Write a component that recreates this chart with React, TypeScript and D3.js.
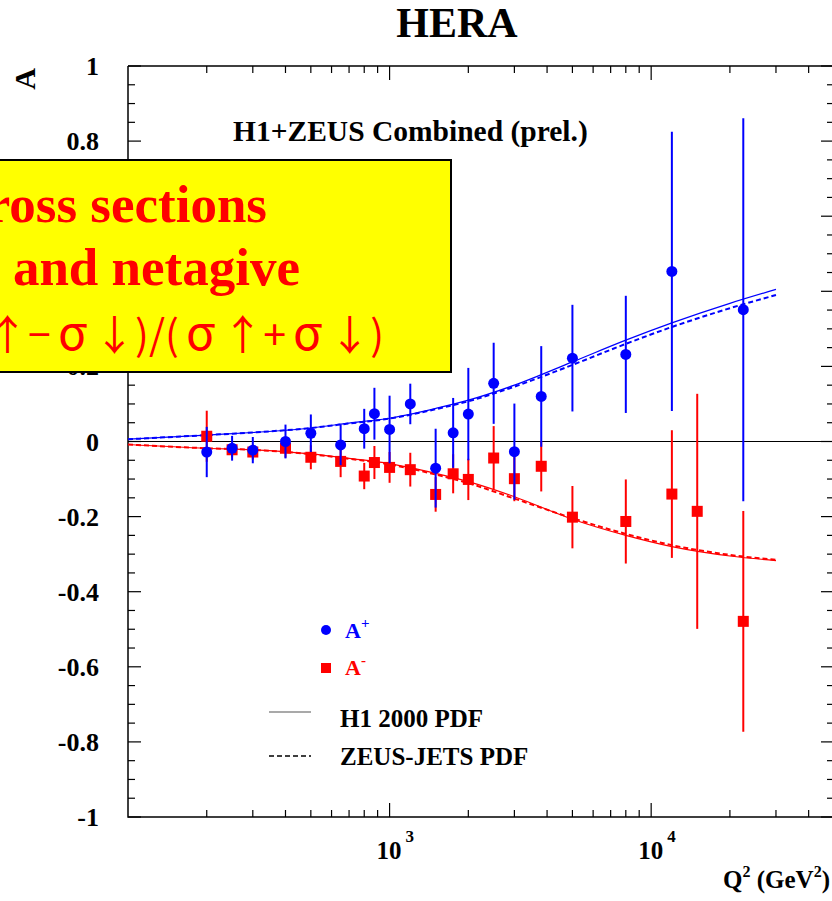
import * as d3 from "d3";

const Q2_PLUS = [200, 250, 300, 400, 500, 650, 800, 875, 1000, 1200, 1500, 1750, 2000, 2500, 3000, 3800, 5000, 8000, 12000, 22500];
const A_PLUS = [-0.028, -0.018, -0.023, 0.0, 0.022, -0.009, 0.034, 0.074, 0.032, 0.1, -0.071, 0.023, 0.073, 0.155, -0.027, 0.12, 0.222, 0.232, 0.453, 0.351];
const ERR_PLUS = [0.067, 0.033, 0.035, 0.045, 0.05, 0.054, 0.053, 0.069, 0.09, 0.054, 0.105, 0.093, 0.123, 0.108, 0.128, 0.134, 0.142, 0.156, 0.372, 0.51];

const Q2_MINUS = [200, 250, 300, 400, 500, 650, 800, 875, 1000, 1200, 1500, 1750, 2000, 2500, 3000, 3800, 5000, 8000, 12000, 15000, 22500];
const A_MINUS = [0.014, -0.022, -0.028, -0.018, -0.042, -0.053, -0.092, -0.056, -0.069, -0.075, -0.141, -0.086, -0.101, -0.044, -0.099, -0.066, -0.2015, -0.213, -0.14, -0.186, -0.479];
const ERR_MINUS = [0.068, 0.02, 0.02, 0.025, 0.032, 0.042, 0.035, 0.044, 0.041, 0.045, 0.046, 0.052, 0.055, 0.085, 0.06, 0.067, 0.083, 0.112, 0.17, 0.313, 0.294];

// PDF predictions
const Q2_THEORY = [100, 200, 300, 500, 700, 1000, 1500, 2000, 3000, 5000, 8000, 12000, 20000, 30000];
const H1_PLUS = [0.006, 0.017, 0.024, 0.036, 0.049, 0.062, 0.088, 0.11, 0.15, 0.212, 0.27, 0.316, 0.368, 0.405];
const ZEUS_PLUS = [0.006, 0.017, 0.024, 0.036, 0.048, 0.061, 0.086, 0.107, 0.146, 0.204, 0.26, 0.305, 0.355, 0.39];
const H1_MINUS = [-0.008, -0.018, -0.022, -0.033, -0.045, -0.059, -0.085, -0.107, -0.147, -0.207, -0.25, -0.28, -0.305, -0.317];
const ZEUS_MINUS = [-0.008, -0.018, -0.022, -0.034, -0.046, -0.061, -0.088, -0.111, -0.152, -0.204, -0.246, -0.276, -0.302, -0.315];

const Y_LABELS = [1, 0.8, 0.6, 0.4, 0.2, 0, -0.2, -0.4, -0.6, -0.8, -1];
const X_DECADES = [1000, 10000];
const X_DECADE_EXP = ["3", "4"];

const NOTE_FORMULA = "(σ↑−σ↓)/(σ↑+σ↓)";

const W = 832;
const H = 901;
const serif = "'Liberation Serif', 'Times New Roman', serif";
const BLUE = "#0000ff";
const RED = "#ff0000";

const x = d3.scaleLog().domain([100, 50000]).range([128, 834]);
const y = d3.scaleLinear().domain([-1, 1]).range([817, 66]);

const curve = (vals: number[]) =>
  d3
    .line<number>()
    .x((_, i) => x(Q2_THEORY[i]))
    .y((d) => y(d))
    .curve(d3.curveMonotoneX)(vals) || "";

// sigma set full width, like the original slide font
function formulaSpans(s: string) {
  const chars = Array.from(s);
  return chars.map((c, i) => {
    const pad = (c === "σ" ? 7 : 0) + (i > 0 && chars[i - 1] === "σ" ? 7 : 0);
    return (
      <tspan key={i} dx={pad} fontSize={c === "σ" ? 48 : undefined}>
        {c}
      </tspan>
    );
  });
}

export default function App() {
  const [x0, x1] = x.range();
  const [yb, yt] = y.range();
  const yMinor = y.ticks(40);
  const xMinor = x.ticks().filter((v) => v > 100 && v < 50000);
  const isDecade = (v: number) => Math.abs(Math.log10(v) - Math.round(Math.log10(v))) < 1e-9;

  return (
    <svg width={W} height={H} style={{ position: "absolute", left: 0, top: 0 }} fontFamily={serif} fontWeight="bold">
      <rect width={W} height={H} fill="#fff" />

      <text x={457} y={37} fontSize={42} textAnchor="middle">HERA</text>

      {/* frame */}
      <g stroke="#000" strokeWidth={1.5} fill="none">
        <path d={`M${x0},${yt}H${x1}M${x0},${yt}V${yb}H${x1}V${yt}`} />
        {yMinor.map((v) => {
          const major = Math.abs(Math.round(v * 5) - v * 5) < 1e-9;
          const len = major ? 13 : 7;
          return (
            <g key={v}>
              <line x1={x0} x2={x0 + len} y1={y(v)} y2={y(v)} strokeWidth={1.2} />
              <line x1={x1} x2={x1 - len} y1={y(v)} y2={y(v)} strokeWidth={1.2} />
            </g>
          );
        })}
        {xMinor.map((v) => {
          const len = isDecade(v) ? 14 : 7;
          return (
            <g key={v}>
              <line x1={x(v)} x2={x(v)} y1={yb} y2={yb - len} strokeWidth={1.2} />
              <line x1={x(v)} x2={x(v)} y1={yt} y2={yt + len} strokeWidth={1.2} />
            </g>
          );
        })}
      </g>

      {/* y labels */}
      {Y_LABELS.map((v) => (
        <text key={v} x={99} y={y(v) + 9} fontSize={26} textAnchor="end">
          {String(v)}
        </text>
      ))}
      <text transform="translate(35,79) rotate(-90)" fontSize={30} textAnchor="middle">A</text>

      {/* x labels */}
      {X_DECADES.map((v, i) => (
        <g key={v}>
          <text x={x(v) + 12} y={859} fontSize={25} textAnchor="end">10</text>
          <text x={x(v) + 16} y={842} fontSize={17}>{X_DECADE_EXP[i]}</text>
        </g>
      ))}
      <text x={830} y={888} fontSize={25} textAnchor="end">
        Q<tspan fontSize={16} dy={-11}>2</tspan>
        <tspan dy={11}> (GeV</tspan>
        <tspan fontSize={16} dy={-11}>2</tspan>
        <tspan dy={11}>)</tspan>
      </text>

      <text x={233} y={141} fontSize={29.5}>H1+ZEUS Combined (prel.)</text>

      {/* zero line */}
      <line x1={x0} x2={x1} y1={y(0)} y2={y(0)} stroke="#000" strokeWidth={1} />

      {/* theory */}
      <g fill="none">
        <path d={curve(H1_PLUS)} stroke={BLUE} strokeWidth={1.2} />
        <path d={curve(ZEUS_PLUS)} stroke={BLUE} strokeWidth={2} strokeDasharray="5,3" />
        <path d={curve(H1_MINUS)} stroke={RED} strokeWidth={1.2} />
        <path d={curve(ZEUS_MINUS)} stroke={RED} strokeWidth={2} strokeDasharray="5,3" />
      </g>

      {/* A- points */}
      {Q2_MINUS.map((q, i) => (
        <g key={"m" + q}>
          <line x1={x(q)} x2={x(q)} y1={y(A_MINUS[i] + ERR_MINUS[i])} y2={y(A_MINUS[i] - ERR_MINUS[i])} stroke={RED} strokeWidth={2} />
          <rect x={x(q) - 5.5} y={y(A_MINUS[i]) - 5.5} width={11} height={11} fill={RED} />
        </g>
      ))}
      {/* A+ points */}
      {Q2_PLUS.map((q, i) => (
        <g key={"p" + q}>
          <line x1={x(q)} x2={x(q)} y1={y(A_PLUS[i] + ERR_PLUS[i])} y2={y(A_PLUS[i] - ERR_PLUS[i])} stroke={BLUE} strokeWidth={2} />
          <circle cx={x(q)} cy={y(A_PLUS[i])} r={5.5} fill={BLUE} />
        </g>
      ))}

      {/* legend */}
      <circle cx={326} cy={630} r={5} fill={BLUE} />
      <text x={345} y={638} fontSize={22} fill={BLUE}>
        A<tspan fontSize={15} dy={-10}>+</tspan>
      </text>
      <rect x={321} y={663} width={10} height={10} fill={RED} />
      <text x={345} y={675} fontSize={22} fill={RED}>
        A<tspan fontSize={15} dy={-10}>-</tspan>
      </text>
      <line x1={269} x2={311} y1={712} y2={712} stroke="#555" strokeWidth={1.2} />
      <text x={340} y={727} fontSize={25}>H1 2000 PDF</text>
      <line x1={269} x2={311} y1={756} y2={756} stroke="#000" strokeWidth={1.5} strokeDasharray="5,3" />
      <text x={340} y={765} fontSize={25}>ZEUS-JETS PDF</text>

      {/* yellow note box */}
      <rect x={-3} y={160} width={454} height={212} fill="#ffff00" stroke="#000" strokeWidth={2} />
      <text x={267} y={222} fontSize={53} fill={RED} textAnchor="end">Cross sections</text>
      <text x={300} y={285} fontSize={53} fill={RED} textAnchor="end">positive and netagive</text>
      <text
        x={384}
        y={350}
        fontSize={41}
        fill={RED}
        fontWeight="normal"
        fontFamily="'Noto Sans CJK JP', sans-serif"
        textAnchor="end"
      >
        {formulaSpans(NOTE_FORMULA)}
      </text>
    </svg>
  );
}
